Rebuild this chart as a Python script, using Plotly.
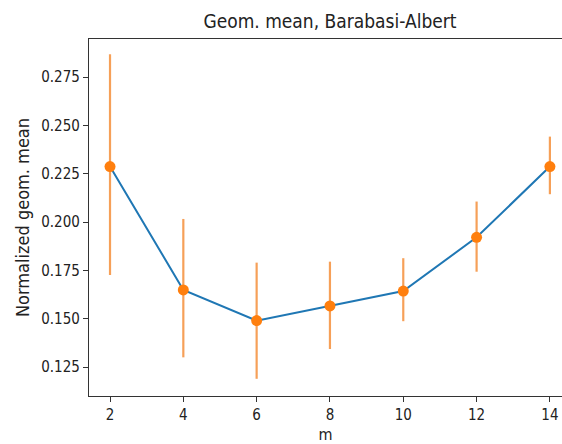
import plotly.graph_objects as go

m_values = [2, 4, 6, 8, 10, 12, 14]
geom_mean = [0.2287, 0.1649, 0.1490, 0.1566, 0.1643, 0.1921, 0.2287]
err_plus = [0.0581, 0.0367, 0.0300, 0.0229, 0.0170, 0.0185, 0.0155]
err_minus = [0.0561, 0.0349, 0.0301, 0.0223, 0.0156, 0.0178, 0.0143]
y_ticks = [0.125, 0.150, 0.175, 0.200, 0.225, 0.250, 0.275]
x_ticks = [2, 4, 6, 8, 10, 12, 14]

FONT = "DejaVu Sans Condensed, DejaVu Sans, sans-serif"

fig = go.Figure()
fig.add_trace(go.Scatter(
    x=m_values, y=geom_mean, mode="lines",
    line=dict(color="#1f77b4", width=2), showlegend=False, hoverinfo="skip"))
fig.add_trace(go.Scatter(
    x=m_values, y=geom_mean, mode="markers",
    marker=dict(color="#ff7f0e", size=11),
    error_y=dict(type="data", symmetric=False, array=err_plus, arrayminus=err_minus,
                 color="rgba(245,150,70,0.9)", thickness=2.2, width=0),
    showlegend=False))

fig.update_layout(
    width=562, height=444,
    margin=dict(l=89, r=0, t=39, b=48),
    paper_bgcolor="white", plot_bgcolor="white",
    font=dict(family=FONT, size=15, color="#222"),
    title=dict(text="Geom. mean, Barabasi-Albert", x=330/562, xref="container",
               xanchor="center", y=1-21/444, yanchor="middle",
               font=dict(family=FONT, size=19, color="#222")),
    xaxis=dict(range=[1.427, 14.33], tickvals=x_ticks, ticktext=[str(v) for v in x_ticks],
               showgrid=False, zeroline=False, showline=True, linecolor="#333", linewidth=1.3,
               mirror=True, ticks="outside", ticklen=5, tickcolor="#333",
               title=dict(text="m", standoff=6, font=dict(size=16))),
    yaxis=dict(range=[0.1100, 0.2947], tickvals=y_ticks, ticktext=[f"{v:.3f}" for v in y_ticks],
               showgrid=False, zeroline=False, showline=True, linecolor="#333", linewidth=1.3,
               mirror=False, ticks="outside", ticklen=5, tickcolor="#333",
               title=dict(text="Normalized geom. mean", standoff=6, font=dict(size=18))),
)

fig.write_html("out.html")
